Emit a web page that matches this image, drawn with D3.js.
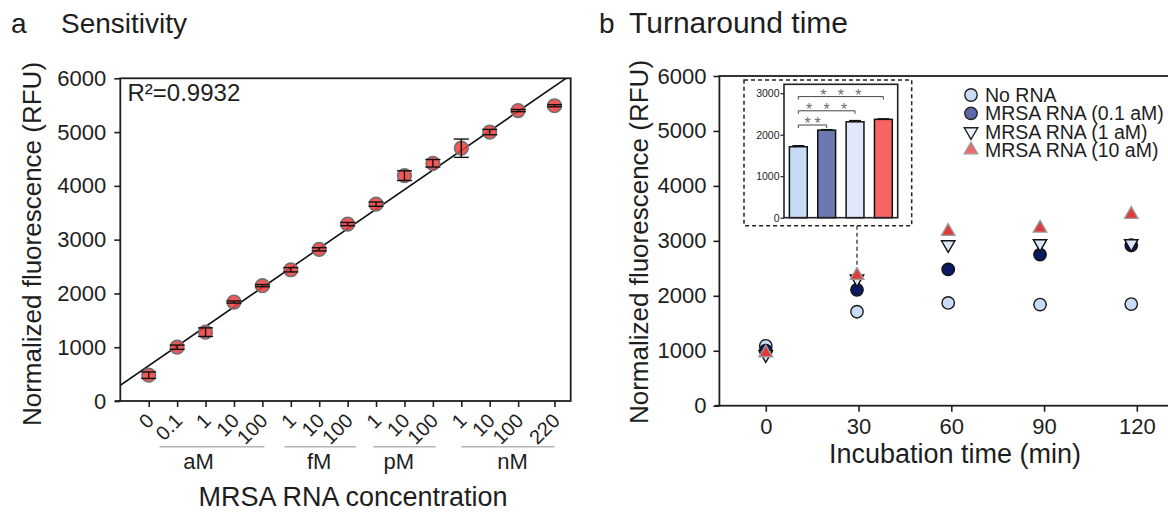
<!DOCTYPE html>
<html>
<head>
<meta charset="utf-8">
<script src="https://cdn.jsdelivr.net/npm/d3@7"></script>
<style>
  body { margin: 0; background: #fff; }
  svg { font-family: "Liberation Sans", Arial, sans-serif; }
</style>
</head>
<body>
<div id="chart"></div>
<script>
const w = 1168, h = 512;

// ---- panel a data ----
const concLabels = ["0","0.1","1","10","100","1","10","100","1","10","100","1","10","100","220"];
const concPos    = [0,1,2,3,4,5,6,7,8,9,10,11,12,13,14.28];
const sensMean   = [480,1000,1280,1840,2145,2440,2820,3290,3660,4190,4420,4700,5000,5400,5490];
const sensErr    = [60,40,80,20,20,40,30,30,40,90,70,170,50,20,20];
const unitNames  = ["aM","fM","pM","nM"];
const unitFrom   = [0.38, 4.78, 7.9, 11];
const unitTo     = [4.07, 7.29, 10.1, 14.28];
const unitMid    = [1.75, 6, 8.8, 12.8];
const r2Label    = "R²=0.9932";

// ---- panel b data ----
const times      = [0, 29.5, 59, 88.7, 118.2];
const timeTicks  = [0, 30, 60, 90, 120];
const seriesNames = ["No RNA","MRSA RNA (0.1 aM)","MRSA RNA (1 aM)","MRSA RNA (10 aM)"];
const noRna      = [1090, 1710, 1870, 1840, 1850];
const rna01aM    = [1000, 2110, 2480, 2750, 2920];
const rna1aM     = [930, 2310, 2930, 2950, 2950];
const rna10aM    = [960, 2370, 3170, 3230, 3480];
const insetErr   = [25, 12, 30, 12];
const sigPairs   = [[0,1],[0,2],[0,3]];
const sigStars   = [2, 3, 3];

const svg = d3.select("#chart").append("svg")
  .attr("width", w).attr("height", h)
  .attr("viewBox", "0 0 " + w + " " + h);

const ink = "#1e1e1e";
const plain = d3.format("d");

// ================= panel a =================
const ax = d3.scaleLinear().domain([-1, 14.85]).range([120.3, 570.7]);
const ay = d3.scaleLinear().domain([0, 6000]).range([401, 78.3]);

svg.append("text").attr("x", 11).attr("y", 33).style("font-size", "28px").attr("fill", ink).text("a");
svg.append("text").attr("x", 61).attr("y", 33).style("font-size", "28px").attr("fill", ink).text("Sensitivity");

const ga = svg.append("g");

ga.append("g").attr("transform", "translate(120.3,0)")
  .call(d3.axisLeft(ay).tickValues(d3.range(0, 6001, 1000)).tickFormat(plain).tickSize(6).tickPadding(8).tickSizeOuter(0))
  .call(g => g.select(".domain").remove())
  .call(g => g.selectAll("line").attr("stroke", ink).attr("stroke-width", 1.6))
  .call(g => g.selectAll("text").style("font-size", "22px").attr("fill", ink).style("font-family", "inherit"));

ga.append("g").attr("transform", "translate(0,401)")
  .call(d3.axisBottom(ax).tickValues(concPos).tickFormat((d, i) => concLabels[i]).tickSize(6).tickSizeOuter(0))
  .call(g => g.select(".domain").remove())
  .call(g => g.selectAll("line").attr("stroke", ink).attr("stroke-width", 1.6))
  .call(g => g.selectAll("text")
    .attr("x", 0).attr("y", 0).attr("dy", 0)
    .attr("transform", "translate(6,21) rotate(-45)")
    .style("text-anchor", "end").style("font-size", "20px").attr("fill", ink).style("font-family", "inherit"));

// x-axis line extends slightly left of the box
ga.append("line").attr("x1", 115).attr("x2", 120.3).attr("y1", 401).attr("y2", 401)
  .attr("stroke", ink).attr("stroke-width", 1.8);

ga.append("rect").attr("x", 120.3).attr("y", 78.3)
  .attr("width", 570.7 - 120.3).attr("height", 401 - 78.3)
  .attr("fill", "none").attr("stroke", ink).attr("stroke-width", 1.8);

// unit groups
unitNames.forEach((u, i) => {
  ga.append("line").attr("x1", ax(unitFrom[i])).attr("x2", ax(unitTo[i]))
    .attr("y1", 446.7).attr("y2", 446.7).attr("stroke", "#b4b4b4").attr("stroke-width", 1.6);
  ga.append("text").attr("x", ax(unitMid[i])).attr("y", 469)
    .attr("text-anchor", "middle").style("font-size", "22px").attr("fill", ink).text(u);
});

ga.append("text").attr("x", 353).attr("y", 506).attr("text-anchor", "middle")
  .style("font-size", "27px").attr("fill", ink).text("MRSA RNA concentration");
ga.append("text").attr("transform", "translate(41,244) rotate(-90)").attr("text-anchor", "middle")
  .style("font-size", "26px").attr("fill", ink).text("Normalized fluorescence (RFU)");

// least squares fit over the points
const mx = d3.mean(concPos), my = d3.mean(sensMean);
const sxy = d3.sum(concPos, (x, i) => (x - mx) * (sensMean[i] - my));
const sxx = d3.sum(concPos, x => (x - mx) * (x - mx));
const slope = sxy / sxx, icpt = my - slope * mx;

svg.append("clipPath").attr("id", "clipa").append("rect")
  .attr("x", 120.3).attr("y", 78.3).attr("width", 450.4).attr("height", 322.7);

ga.append("line").attr("clip-path", "url(#clipa)")
  .attr("x1", ax(-1)).attr("y1", ay(icpt - slope))
  .attr("x2", ax(14.85)).attr("y2", ay(icpt + slope * 14.85))
  .attr("stroke", "#111").attr("stroke-width", 1.6);

ga.selectAll("circle.pt").data(sensMean).enter().append("circle")
  .attr("cx", (d, i) => ax(concPos[i])).attr("cy", d => ay(d)).attr("r", 6.8)
  .attr("fill", "#f23a3a").attr("fill-opacity", 0.85)
  .attr("stroke", "#707070").attr("stroke-width", 1.6);

const eb = ga.selectAll("g.eb").data(sensMean).enter().append("g")
  .attr("stroke", "#111").attr("stroke-width", 1.4);
eb.append("line").attr("x1", (d, i) => ax(concPos[i])).attr("x2", (d, i) => ax(concPos[i]))
  .attr("y1", (d, i) => ay(d - sensErr[i])).attr("y2", (d, i) => ay(d + sensErr[i]));
eb.append("line").attr("x1", (d, i) => ax(concPos[i]) - 7.5).attr("x2", (d, i) => ax(concPos[i]) + 7.5)
  .attr("y1", (d, i) => ay(d - sensErr[i])).attr("y2", (d, i) => ay(d - sensErr[i]));
eb.append("line").attr("x1", (d, i) => ax(concPos[i]) - 7.5).attr("x2", (d, i) => ax(concPos[i]) + 7.5)
  .attr("y1", (d, i) => ay(d + sensErr[i])).attr("y2", (d, i) => ay(d + sensErr[i]));

ga.append("text").attr("x", 127.5).attr("y", 101).style("font-size", "24px").attr("fill", ink).text(r2Label);

// ================= panel b =================
const bx = d3.scaleLinear().domain([-15, 135]).range([719.4, 1183.2]);
const by = d3.scaleLinear().domain([0, 6000]).range([405.7, 76]);

svg.append("text").attr("x", 599).attr("y", 33).style("font-size", "28px").attr("fill", ink).text("b");
svg.append("text").attr("x", 629).attr("y", 33).style("font-size", "30px").attr("fill", ink).text("Turnaround time");

const gb = svg.append("g");

gb.append("g").attr("transform", "translate(719.4,0)")
  .call(d3.axisLeft(by).tickValues(d3.range(0, 6001, 1000)).tickFormat(plain).tickSize(6).tickPadding(7).tickSizeOuter(0))
  .call(g => g.select(".domain").remove())
  .call(g => g.selectAll("line").attr("stroke", ink).attr("stroke-width", 1.6))
  .call(g => g.selectAll("text").style("font-size", "22px").attr("fill", ink).style("font-family", "inherit"));

gb.append("g").attr("transform", "translate(0,405.7)")
  .call(d3.axisBottom(bx).tickValues(timeTicks).tickFormat(plain).tickSize(6).tickPadding(7).tickSizeOuter(0))
  .call(g => g.select(".domain").remove())
  .call(g => g.selectAll("line").attr("stroke", ink).attr("stroke-width", 1.6))
  .call(g => g.selectAll("text").style("font-size", "22px").attr("fill", ink).style("font-family", "inherit"));

gb.append("line").attr("x1", 715).attr("x2", 719.4).attr("y1", 405.7).attr("y2", 405.7)
  .attr("stroke", ink).attr("stroke-width", 1.8);
gb.append("rect").attr("x", 719.4).attr("y", 76)
  .attr("width", 1183.2 - 719.4).attr("height", 405.7 - 76)
  .attr("fill", "none").attr("stroke", ink).attr("stroke-width", 1.8);

gb.append("text").attr("x", 955).attr("y", 463).attr("text-anchor", "middle")
  .style("font-size", "27px").attr("fill", ink).text("Incubation time (min)");
gb.append("text").attr("transform", "translate(648,242) rotate(-90)").attr("text-anchor", "middle")
  .style("font-size", "26px").attr("fill", ink).text("Normalized fluorescence (RFU)");

const series = [
  { name: seriesNames[0], values: noRna,   shape: "circle", fill: "#c8dcf5", stroke: "#1a1a1a", legendFill: "#c8dcf5", legendStroke: "#222", bar: "#c6dbf6" },
  { name: seriesNames[1], values: rna01aM, shape: "circle", fill: "#0b1862", stroke: "#111",    legendFill: "#5b69a6", legendStroke: "#222", bar: "#6b79b0" },
  { name: seriesNames[2], values: rna1aM,  shape: "down",   fill: "#dde7f9", stroke: "#111",    legendFill: "#eef2fc", legendStroke: "#222", bar: "#e2e8fb" },
  { name: seriesNames[3], values: rna10aM, shape: "up",     fill: "#e23a3a", stroke: "#9a9a9a", legendFill: "#f06a6a", legendStroke: "#9a9a9a", bar: "#f86464" }
];

const symCircle = d3.symbol().type(d3.symbolCircle).size(Math.PI * 6.2 * 6.2);
const symTri = d3.symbol().type(d3.symbolTriangle).size(78);
function shapePath(s) { return s === "circle" ? symCircle() : symTri(); }
function shapeRot(s) { return s === "down" ? " rotate(180)" : ""; }

// dashed connector from inset to the 30 min points
gb.append("line").attr("x1", bx(times[1])).attr("x2", bx(times[1]))
  .attr("y1", 225.7).attr("y2", by(rna10aM[1]) - 7)
  .attr("stroke", "#222").attr("stroke-width", 1.2).attr("stroke-dasharray", "4,3");

series.forEach(s => {
  gb.selectAll(null).data(s.values).enter().append("path")
    .attr("d", shapePath(s.shape))
    .attr("transform", (d, i) => "translate(" + bx(times[i]) + "," + by(d) + ")" + shapeRot(s.shape))
    .attr("fill", s.fill).attr("stroke", s.stroke).attr("stroke-width", 1.4);
});

// legend
const legY = [95, 113.3, 131.6, 150];
series.forEach((s, i) => {
  gb.append("path").attr("d", shapePath(s.shape))
    .attr("transform", "translate(971," + legY[i] + ")" + shapeRot(s.shape))
    .attr("fill", s.legendFill).attr("stroke", s.legendStroke).attr("stroke-width", 1.4);
  gb.append("text").attr("x", 985).attr("y", legY[i] + 7)
    .style("font-size", "19.5px").attr("fill", ink).text(s.name);
});

// inset: bars at 30 min
const gi = gb.append("g");
gi.append("rect").attr("x", 744).attr("y", 80).attr("width", 911.7 - 744).attr("height", 225.7 - 80)
  .attr("fill", "#fff").attr("stroke", "#222").attr("stroke-width", 1.5).attr("stroke-dasharray", "4,3");

const ix = d3.scaleBand().domain([0, 1, 2, 3]).range([784, 897.7]).paddingInner(0.37).paddingOuter(0.19);
const iy = d3.scaleLinear().domain([0, 3200]).range([217.7, 84.9]);
const insetVals = series.map(s => s.values[1]);

gi.append("g").attr("transform", "translate(784,0)")
  .call(d3.axisLeft(iy).tickValues([0, 1000, 2000, 3000]).tickFormat(plain).tickSize(3.5).tickPadding(1).tickSizeOuter(0))
  .call(g => g.select(".domain").remove())
  .call(g => g.selectAll("line").attr("stroke", ink).attr("stroke-width", 1.2))
  .call(g => g.selectAll("text").style("font-size", "10.5px").attr("fill", ink).style("font-family", "inherit"));

gi.selectAll("rect.bar").data(insetVals).enter().append("rect")
  .attr("x", (d, i) => ix(i)).attr("width", ix.bandwidth())
  .attr("y", d => iy(d)).attr("height", d => iy(0) - iy(d))
  .attr("fill", (d, i) => series[i].bar).attr("stroke", "#111").attr("stroke-width", 1.5);

const ieb = gi.selectAll("g.ieb").data(insetVals).enter().append("g")
  .attr("stroke", "#111").attr("stroke-width", 1.4);
ieb.append("line").attr("x1", (d, i) => ix(i) + ix.bandwidth() / 2).attr("x2", (d, i) => ix(i) + ix.bandwidth() / 2)
  .attr("y1", d => iy(d)).attr("y2", (d, i) => iy(d + insetErr[i]));
ieb.append("line").attr("x1", (d, i) => ix(i) + 3).attr("x2", (d, i) => ix(i) + ix.bandwidth() - 3)
  .attr("y1", (d, i) => iy(d + insetErr[i])).attr("y2", (d, i) => iy(d + insetErr[i]));

gi.append("rect").attr("x", 784).attr("y", 84.3).attr("width", 897.7 - 784).attr("height", 217.7 - 84.3)
  .attr("fill", "none").attr("stroke", "#222").attr("stroke-width", 1.6);

sigPairs.forEach((p, k) => {
  const x1 = ix(p[0]) + ix.bandwidth() / 2, x2 = ix(p[1]) + ix.bandwidth() / 2;
  const yb = 125 - k * 14.2;
  gi.append("path").attr("d", "M" + x1 + "," + (yb + 3) + "V" + yb + "H" + x2 + "V" + (yb + 3))
    .attr("fill", "none").attr("stroke", "#444").attr("stroke-width", 1);
  const n = sigStars[k], gap = n === 2 ? 10 : 17.5, cx = (x1 + x2) / 2;
  d3.range(n).forEach(j => {
    gi.append("text").attr("x", cx + (j - (n - 1) / 2) * gap).attr("y", yb + 4)
      .attr("text-anchor", "middle").style("font-size", "16px").attr("fill", "#6e6e6e").text("*");
  });
});
</script>
</body>
</html>
